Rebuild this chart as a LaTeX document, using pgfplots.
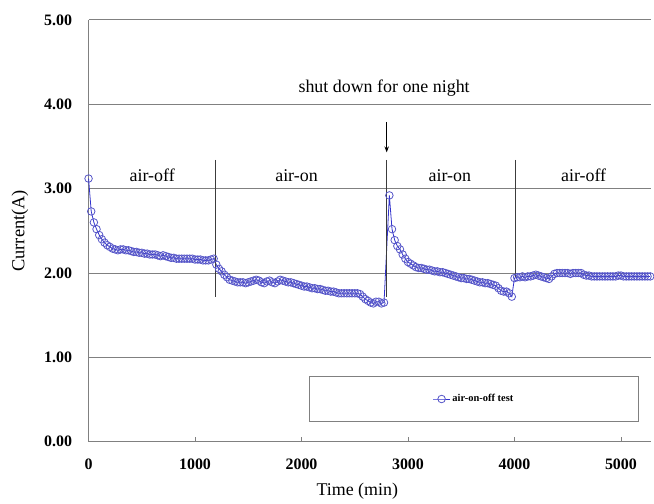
\documentclass[border=0pt]{standalone}
\usepackage{pgfplots}
\pgfplotsset{compat=1.18}
\usepackage{fontspec}
\setmainfont{Liberation Serif}
\usetikzlibrary{arrows.meta}
\definecolor{lineblue}{RGB}{50,50,205}
\definecolor{markblue}{RGB}{85,85,200}
\definecolor{gridgray}{RGB}{128,128,128}
\definecolor{annot}{RGB}{60,60,60}
\begin{document}
\begin{tikzpicture}
\begin{axis}[
  at={(0pt,0pt)}, anchor=south west,
  scale only axis, width=565pt, height=424pt,
  xmin=0, xmax=5280, ymin=0, ymax=5,
  axis x line*=bottom, axis y line*=left,
  axis line style={gridgray, line width=1pt},
  xtick={0,1000,2000,3000,4000,5000},
  ytick={0,1,2,3,4,5},
  ymajorgrids, grid style={gridgray, line width=1pt},
  tick align=inside,
  major tick length=5pt,
  ytick style={draw=none},
  xtick style={gridgray, line width=0.8pt},
  /pgf/number format/assume math mode=true,
  scaled ticks=false,
  xticklabel={\pgfmathprintnumber[fixed,precision=0,1000 sep={}]{\tick}},
  yticklabel={\pgfmathprintnumber[fixed,fixed zerofill,precision=2]{\tick}},
  ticklabel style={font=\fontsize{16}{16}\selectfont\bfseries},
  yticklabel style={anchor=east, xshift=-13pt},
  xticklabel style={anchor=north, yshift=-14pt},
  xlabel={Time (min)},
  ylabel={Current(A)},
  xlabel style={at={(axis description cs:0.478,-0.118)}, anchor=center, font=\fontsize{18}{18}\selectfont},
  ylabel style={at={(axis description cs:-0.122,0.5)}, anchor=center, font=\fontsize{18.5}{18.5}\selectfont},
  legend style={at={(axis cs:3620,0.507)}, anchor=center, draw=gridgray, line width=0.8pt,
    inner xsep=124pt, inner ysep=16pt, font=\fontsize{10.5}{12}\selectfont\bfseries, fill=white},
  legend cell align=left,
  clip=false,
]
\addplot[color=lineblue, line width=0.8pt, mark=o, mark size=3.8pt,
  mark options={color=markblue, line width=0.8pt}]
coordinates {
(0,3.12)(25,2.73)(50,2.60)(75,2.52)(100,2.45)(125,2.40)(150,2.36)(175,2.33)(200,2.31)(225,2.29)
(250,2.28)(275,2.27)(300,2.28)(325,2.28)(350,2.27)(375,2.27)(400,2.26)(425,2.25)(450,2.25)(475,2.24)
(500,2.24)(525,2.23)(550,2.23)(575,2.22)(600,2.22)(625,2.22)(650,2.21)(675,2.20)(700,2.21)(725,2.20)
(750,2.19)(775,2.18)(800,2.18)(825,2.17)(850,2.17)(875,2.17)(900,2.17)(925,2.17)(950,2.17)(975,2.17)
(1000,2.16)(1025,2.16)(1050,2.16)(1075,2.15)(1100,2.15)(1125,2.15)(1150,2.16)(1175,2.17)
(1200,2.10)(1225,2.05)(1250,2.02)(1275,1.98)(1300,1.95)(1325,1.92)(1350,1.91)(1375,1.90)(1400,1.89)(1425,1.89)
(1450,1.89)(1475,1.88)(1500,1.89)(1525,1.90)(1550,1.91)(1575,1.92)(1600,1.91)(1625,1.89)(1650,1.88)(1675,1.90)
(1700,1.91)(1725,1.89)(1750,1.88)(1775,1.90)(1800,1.92)(1825,1.91)(1850,1.90)(1875,1.89)(1900,1.89)(1925,1.88)
(1950,1.87)(1975,1.86)(2000,1.85)(2025,1.84)(2050,1.84)(2075,1.83)(2100,1.82)(2125,1.82)(2150,1.81)(2175,1.81)
(2200,1.80)(2225,1.79)(2250,1.79)(2275,1.78)(2300,1.78)(2325,1.77)(2350,1.76)(2375,1.76)(2400,1.76)(2425,1.76)
(2450,1.76)(2475,1.76)(2500,1.76)(2525,1.76)(2550,1.75)(2575,1.72)(2600,1.69)(2625,1.67)(2650,1.65)(2675,1.64)
(2700,1.66)(2725,1.66)(2750,1.64)(2775,1.65)
(2825,2.92)(2850,2.52)(2875,2.39)(2900,2.32)(2925,2.28)(2950,2.22)(2975,2.17)(3000,2.13)(3025,2.11)(3050,2.09)
(3075,2.07)(3100,2.06)(3125,2.06)(3150,2.05)(3175,2.04)(3200,2.04)(3225,2.03)(3250,2.02)(3275,2.02)(3300,2.01)
(3325,2.01)(3350,2.00)(3375,1.99)(3400,1.98)(3425,1.97)(3450,1.96)(3475,1.95)(3500,1.94)(3525,1.94)(3550,1.93)
(3575,1.93)(3600,1.92)(3625,1.91)(3650,1.90)(3675,1.89)(3700,1.89)(3725,1.88)(3750,1.88)(3775,1.87)(3800,1.86)
(3825,1.85)(3850,1.82)(3875,1.79)(3900,1.78)(3925,1.78)(3950,1.76)(3975,1.72)
(4000,1.94)(4025,1.95)(4050,1.95)(4075,1.96)(4100,1.95)(4125,1.96)(4150,1.96)(4175,1.97)(4200,1.98)(4225,1.97)
(4250,1.96)(4275,1.95)(4300,1.94)(4325,1.93)(4350,1.96)(4375,1.99)(4400,2.00)(4425,2.00)(4450,2.00)(4475,2.00)
(4500,2.00)(4525,1.99)(4550,2.00)(4575,2.00)(4600,2.00)(4625,2.00)(4650,1.98)(4675,1.97)(4700,1.97)(4725,1.96)
(4750,1.96)(4775,1.96)(4800,1.96)(4825,1.96)(4850,1.96)(4875,1.96)(4900,1.96)(4925,1.96)(4950,1.96)(4975,1.97)
(5000,1.97)(5025,1.96)(5050,1.96)(5075,1.96)(5100,1.96)(5125,1.96)(5150,1.96)(5175,1.96)(5200,1.96)(5225,1.96)
(5250,1.96)(5275,1.96)
};
\addlegendentry{air-on-off test}
\draw[annot, line width=0.8pt] (axis cs:1190,3.34) -- (axis cs:1190,1.72);
\draw[annot, line width=0.8pt] (axis cs:2800,3.34) -- (axis cs:2800,1.72);
\draw[annot, line width=0.8pt] (axis cs:4010,3.34) -- (axis cs:4010,1.95);
\draw[black, line width=0.8pt, -{Stealth[length=6pt,width=4.5pt]}] (axis cs:2800,3.79) -- (axis cs:2800,3.43);
\node[anchor=base, font=\fontsize{18}{18}\selectfont] at (axis cs:2776,4.14) {shut down for one night};
\node[anchor=base, font=\fontsize{18}{18}\selectfont] at (axis cs:598,3.08) {air-off};
\node[anchor=base, font=\fontsize{18}{18}\selectfont] at (axis cs:1953,3.08) {air-on};
\node[anchor=base, font=\fontsize{18}{18}\selectfont] at (axis cs:3393,3.08) {air-on};
\node[anchor=base, font=\fontsize{18}{18}\selectfont] at (axis cs:4650,3.08) {air-off};
\end{axis}
\path[use as bounding box] (-89pt,-58pt) rectangle (565pt,444pt);
\end{tikzpicture}
\end{document}
